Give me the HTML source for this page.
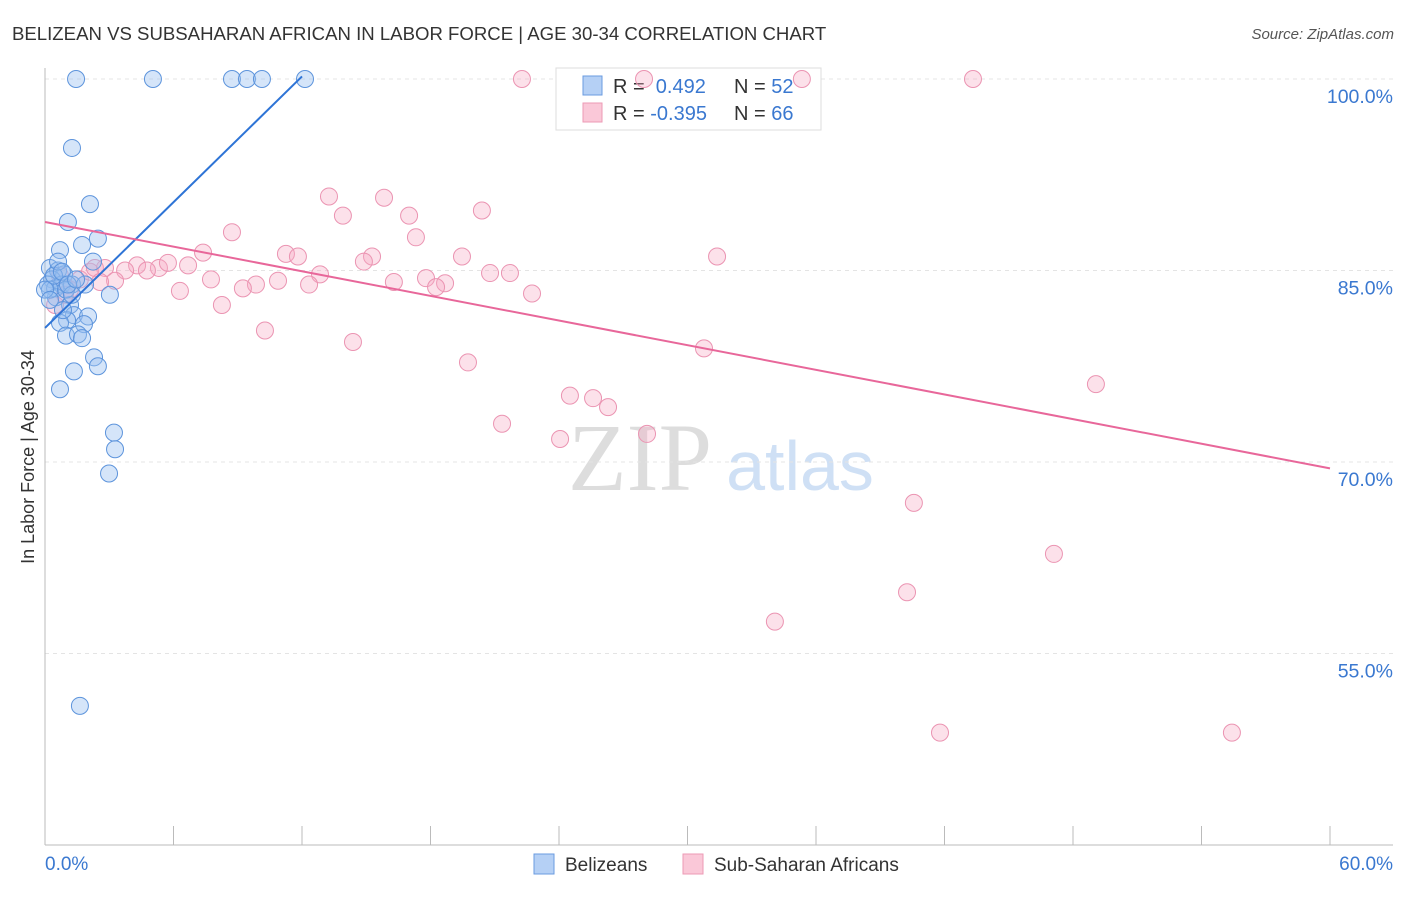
<!DOCTYPE html>
<html><head><meta charset="utf-8"><style>
body{margin:0;background:#fff;font-family:"Liberation Sans",sans-serif}
</style></head><body>
<svg id="chart" width="1406" height="892" xmlns="http://www.w3.org/2000/svg">
<text x="12" y="40" font-size="18.6" fill="#333">BELIZEAN VS SUBSAHARAN AFRICAN IN LABOR FORCE | AGE 30-34 CORRELATION CHART</text>
<text x="1394" y="39" font-size="15" fill="#555" text-anchor="end" font-style="italic">Source: ZipAtlas.com</text>
<text x="640" y="490" font-size="96" fill="#ddd" font-family="Liberation Serif" text-anchor="middle">ZIP</text>
<text x="800" y="490" font-size="70" fill="#cfe0f5" text-anchor="middle">atlas</text>
<text transform="translate(34,457) rotate(-90)" font-size="18" fill="#333" text-anchor="middle">In Labor Force | Age 30-34</text>
<g id="grid"></g>
<g>
<rect x="556" y="68" width="265" height="62" fill="#fff" stroke="#ddd"/>
<rect x="583" y="76" width="19" height="19" fill="#b5d0f5" stroke="#6a9be0"/>
<rect x="583" y="103" width="19" height="19" fill="#fac8d8" stroke="#ec9ab5"/>
<text x="613" y="93" font-size="20" fill="#333">R = <tspan fill="#3a78d0">&#160;0.492</tspan><tspan x="734">N = </tspan><tspan fill="#3a78d0">52</tspan></text>
<text x="613" y="120" font-size="20" fill="#333">R = <tspan fill="#3a78d0">-0.395</tspan><tspan x="734">N = </tspan><tspan fill="#3a78d0">66</tspan></text>
</g>
<g id="pts"></g><g id="lines"></g>
<g>
<rect x="534" y="854" width="20" height="20" fill="#b5d0f5" stroke="#6a9be0"/>
<text x="565" y="871" font-size="19" fill="#333">Belizeans</text>
<rect x="683" y="854" width="20" height="20" fill="#fac8d8" stroke="#ec9ab5"/>
<text x="714" y="871" font-size="19" fill="#333">Sub-Saharan Africans</text>
</g>
</svg>
<script>
const xTicks=[0,6,12,18,24,30,36,42,48,54,60];
const yTicks=[100,85,70,55];
const blueX=[1.45,5.04,8.73,9.43,10.13,12.14,1.26,2.10,1.07,2.47,1.73,0.70,2.24,0.23,0.61,0.89,0.33,0.14,0.47,0.79,1.26,1.87,3.03,0.51,1.17,1.35,2.01,1.03,0.70,1.82,0.98,1.54,1.73,2.29,2.47,1.35,0.70,3.22,3.27,2.99,1.63,0.23,0.42,0.98,0,1.26,0.84,0.61,0.79,0.23,1.07,1.45];
const blueY=[100,100,100,100,100,100,94.6,90.2,88.8,87.5,87.0,86.6,85.7,85.2,85.0,84.7,84.3,83.9,83.6,83.9,83.9,83.9,83.1,82.9,82.3,81.5,81.4,81.1,80.9,80.8,79.9,80.0,79.7,78.2,77.5,77.1,75.7,72.3,71.0,69.1,50.9,83.5,84.6,83.5,83.5,83.1,81.9,85.7,84.9,82.7,83.9,84.3];
const pinkX=[22.27,27.97,35.34,43.33,13.26,15.83,13.91,17.0,20.40,8.73,17.32,7.38,11.25,11.81,15.27,14.89,19.47,31.38,4.30,5.32,6.68,4.76,5.74,3.74,2.80,12.84,21.71,20.78,17.79,7.75,10.88,16.29,18.68,3.27,9.85,9.24,12.33,18.26,6.30,22.74,8.26,10.27,14.38,30.77,19.75,49.07,24.51,25.59,26.29,21.34,24.05,28.11,40.57,47.11,40.25,34.08,41.79,55.42,0.70,1.17,1.63,2.10,0.47,2.33,2.57,0.93];
const pinkY=[100,100,100,100,90.8,90.7,89.3,89.3,89.7,88.0,87.6,86.4,86.3,86.1,86.1,85.7,86.1,86.1,85.4,85.2,85.4,85.0,85.6,85.0,85.2,84.7,84.8,84.8,84.4,84.3,84.2,84.1,84.0,84.2,83.9,83.6,83.9,83.7,83.4,83.2,82.3,80.3,79.4,78.9,77.8,76.1,75.2,75.0,74.3,73.0,71.8,72.2,66.8,62.8,59.8,57.5,48.8,48.8,84.6,83.5,84.3,84.9,82.3,85.2,84.1,83.1];
const blueLine=[[0,80.5],[12.0,100.2]];
const pinkLine=[[0,88.8],[60,69.5]];
const NS='http://www.w3.org/2000/svg';
const sx=v=>45+v/60*1285;
const sy=v=>79+(100-v)*191.5/15;
function mk(p,t,a){const e=document.createElementNS(NS,t);for(const k in a)e.setAttribute(k,a[k]);p.appendChild(e);return e;}
const grid=document.getElementById('grid');
yTicks.forEach(t=>{
 const l=mk(grid,'line',{x1:45,x2:1393,y1:sy(t),y2:sy(t),stroke:'#e4e4e4','stroke-dasharray':'4,4'});
 
 
 const tx=mk(grid,'text',{x:1393,y:sy(t)+24,'font-size':19.5,fill:'#3a78d0','text-anchor':'end'});
 tx.textContent=t.toFixed(1)+'%';
 
 
});
const ax=mk(grid,'line',{x1:45,x2:45,y1:68,y2:845,stroke:'#bbb'});


const bx=mk(grid,'line',{x1:45,x2:1393,y1:845,y2:845,stroke:'#bbb'});


xTicks.forEach(t=>{
 const l=mk(grid,'line',{x1:sx(t),x2:sx(t),y1:826,y2:845,stroke:'#bbb'});
 
 
});
[[0,'start'],[60,'end']].forEach(([t,a])=>{
 const tx=mk(grid,'text',{x:t==0?sx(t):1393,y:870,'font-size':19,fill:'#3a78d0','text-anchor':a});
 tx.textContent=t.toFixed(1)+'%';
 
 
});
const pts=document.getElementById('pts');
pinkX.forEach((x,i)=>{
 const c=mk(pts,'circle',{cx:sx(x),cy:sy(pinkY[i]),r:8.5,fill:'rgba(245,170,195,0.35)',stroke:'#eb94b2','stroke-width':1});
 
 
});
blueX.forEach((x,i)=>{
 const c=mk(pts,'circle',{cx:sx(x),cy:sy(blueY[i]),r:8.5,fill:'rgba(150,190,240,0.4)',stroke:'#5d94dc','stroke-width':1});
 
 
});
const lines=document.getElementById('lines');
const bl=mk(lines,'line',{x1:sx(blueLine[0][0]),y1:sy(blueLine[0][1]),x2:sx(blueLine[1][0]),y2:sy(blueLine[1][1]),stroke:'#2e74d6','stroke-width':2});


const pl=mk(lines,'line',{x1:sx(pinkLine[0][0]),y1:sy(pinkLine[0][1]),x2:sx(pinkLine[1][0]),y2:sy(pinkLine[1][1]),stroke:'#e8679a','stroke-width':2});


</script>
</body></html>
